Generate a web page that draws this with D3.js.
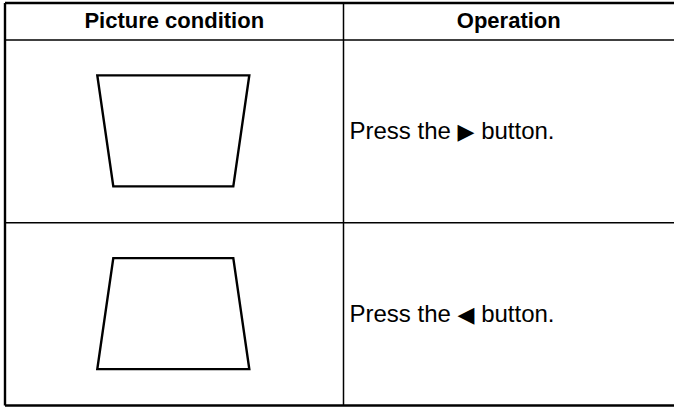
<!DOCTYPE html>
<html>
<head>
<meta charset="utf-8">
<script src="https://cdn.jsdelivr.net/npm/d3@7"></script>
<style>
  html, body { margin: 0; padding: 0; background: #fff; }
  svg { display: block; }
  text { font-family: "Liberation Sans", Arial, Helvetica, sans-serif; fill: #000; }
</style>
</head>
<body>
<svg id="chart" width="674" height="408"></svg>
<script>
// ---- data ----
const columns = ["Picture condition", "Operation"];
const conditions = ["Top wider (keystone)", "Bottom wider (keystone)"];
const keystone = [1, -1];           // +1: top edge wider, -1: bottom edge wider
const opBefore = ["Press the ", "Press the "];
const opSymbol = ["\u25B6", "\u25C0"];
const opAfter = [" button.", " button."];

(function () {
  // ---- layout ----
  const W = 674;
  const svg = d3.select("#chart");
  const xLeft = 5, xRight = 676, yTop = 3, headerBottom = 40, yBottom = 405.5;
  const colSplit = 343.5;

  const x = d3.scaleOrdinal().domain(columns).range([[xLeft, colSplit], [colSplit, xRight]]);
  const y = d3.scaleBand().domain(conditions).range([headerBottom, yBottom]).padding(0);

  // header text
  svg.selectAll("text.header").data(columns).join("text")
    .attr("class", "header")
    .attr("x", d => (x(d)[0] + Math.min(x(d)[1], W)) / 2)
    .attr("y", 28)
    .attr("text-anchor", "middle")
    .attr("font-size", 22)
    .attr("font-weight", "bold")
    .text(d => d);

  // trapezoid shapes
  const k = d3.scaleLinear().domain([-1, 1]).range([-8, 8]);
  const rows = conditions.map((c, i) => ({ c, k: keystone[i], a: opBefore[i], s: opSymbol[i], b: opAfter[i] }));
  const cx = 173.3;
  svg.selectAll("path.shape").data(rows).join("path")
    .attr("class", "shape")
    .attr("fill", "none")
    .attr("stroke", "#000")
    .attr("stroke-width", 2.4)
    .attr("stroke-linejoin", "miter")
    .attr("d", d => {
      const y0 = y(d.c) + y.bandwidth() / 2 - 56, y1 = y0 + 111;
      const half = 68, dk = k(d.k);
      const tw = half + dk, bw = half - dk;
      return `M${cx - tw},${y0}L${cx + tw},${y0}L${cx + bw},${y1}L${cx - bw},${y1}Z`;
    });

  // operation text
  const t = svg.selectAll("text.op").data(rows).join("text")
    .attr("class", "op")
    .attr("x", colSplit + 6)
    .attr("y", d => y(d.c) + y.bandwidth() / 2 + 8)
    .attr("font-size", 24);
  t.append("tspan").text(d => d.a);
  t.append("tspan").attr("font-family", "DejaVu Sans").attr("font-size", 22).text(d => d.s);
  t.append("tspan").text(d => d.b);

  // grid lines
  const lines = [
    { x1: xLeft, y1: yTop, x2: xRight, y2: yTop, w: 2.6 },
    { x1: xLeft, y1: headerBottom, x2: xRight, y2: headerBottom, w: 1.6 },
    { x1: xLeft, y1: y(conditions[1]), x2: xRight, y2: y(conditions[1]), w: 1.6 },
    { x1: xLeft, y1: yBottom, x2: xRight, y2: yBottom, w: 2.6 },
    { x1: xLeft, y1: yTop, x2: xLeft, y2: yBottom, w: 2.4 },
    { x1: colSplit, y1: yTop, x2: colSplit, y2: yBottom, w: 1.5 }
  ];
  svg.selectAll("line.grid").data(lines).join("line")
    .attr("class", "grid")
    .attr("x1", d => d.x1).attr("y1", d => d.y1)
    .attr("x2", d => d.x2).attr("y2", d => d.y2)
    .attr("stroke", "#000")
    .attr("stroke-width", d => d.w);
})();
</script>
</body>
</html>
